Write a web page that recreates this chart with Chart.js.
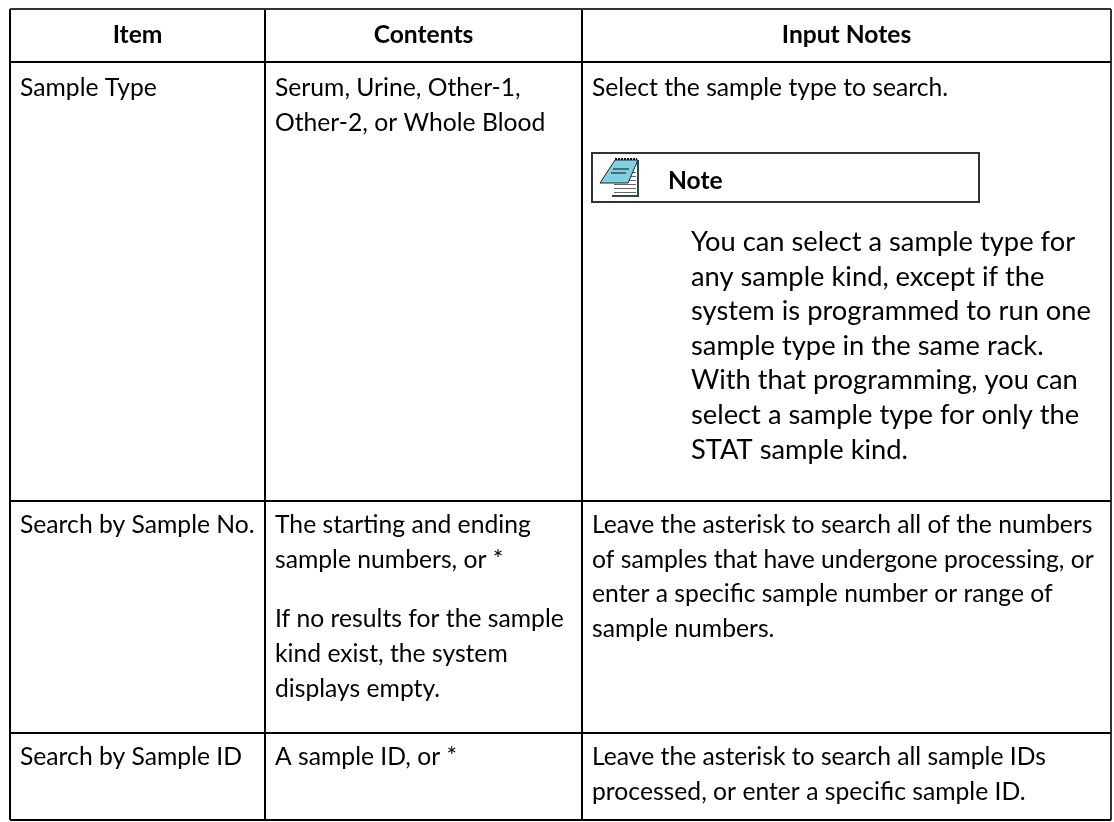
<!DOCTYPE html>
<html><head><meta charset="utf-8">
<style>html,body{margin:0;padding:0;background:#fff}#w{position:relative;width:1114px;height:822px}</style>
<script src="https://cdn.jsdelivr.net/npm/chart.js@4"></script></head>
<body><div id="w"><canvas id="c" width="1114" height="822"></canvas></div>
<script>
const columnEdges=[10,265,582,1111];
const rowEdges=[9,62,501,733,820];
const headers=["Item","Contents","Input Notes"];
const itemColumn=[["Sample Type"],["Search by Sample No."],["Search by Sample ID"]];
const contentsColumn=[
 ["Serum, Urine, Other-1,","Other-2, or Whole Blood"],
 ["The starting and ending","sample numbers, or *"],
 ["A sample ID, or *"]];
const contentsExtra=["If no results for the sample","kind exist, the system","displays empty."];
const notesColumn=[
 ["Select the sample type to search."],
 ["Leave the asterisk to search all of the numbers","of samples that have undergone processing, or","enter a specific sample number or range of","sample numbers."],
 ["Leave the asterisk to search all sample IDs","processed, or enter a specific sample ID."]];
const noteTitle="Note";
const noteBody=["You can select a sample type for","any sample kind, except if the","system is programmed to run one","sample type in the same rack.","With that programming, you can","select a sample type for only the","STAT sample kind."];
const FONT='Lato, "Open Sans", sans-serif';
const tablePlugin={id:'table',afterDatasetsDraw(ch){
 const g=ch.ctx,X=ch.scales.x,Y=ch.scales.y;
 const px=v=>X.getPixelForValue(v),py=v=>Y.getPixelForValue(v);
 g.save();g.fillStyle='#000';g.textBaseline='alphabetic';
 g.font='bold 24.6px '+FONT;g.textAlign='center';
 headers.forEach((h,i)=>g.fillText(h,px((columnEdges[i]+columnEdges[i+1])/2),py(43)));
 g.textAlign='left';g.font='24.7px '+FONT;
 const cell=(lines,x,y,lh)=>lines.forEach((t,i)=>g.fillText(t,px(x),py(y+i*lh)));
 const tops=[96,533,765];
 itemColumn.forEach((l,i)=>cell(l,20,tops[i],34.6));
 contentsColumn.forEach((l,i)=>cell(l,275,tops[i],34.6));
 cell(contentsExtra,275,627,34.8);
 notesColumn.forEach((l,i)=>cell(l,592,tops[i],34.6));
 g.strokeStyle='#333';g.lineWidth=2;g.strokeRect(px(592),py(153),px(979)-px(592),py(202)-py(153));
 g.font='bold 24.6px '+FONT;g.fillText(noteTitle,px(668),py(189));
 g.font='27.3px '+FONT;cell(noteBody,691,251,34.6);
 // notepad icon
 g.lineWidth=1;g.fillStyle='#fff';g.strokeStyle='#222';g.fillRect(px(611),py(160),27,36);
 g.fillStyle='#345';g.fillRect(px(637),py(160),2,37);g.fillRect(px(612),py(195),27,2);
 g.strokeStyle='#666';for(let i=0;i<6;i++){const y=py(172+i*4)+.5;g.beginPath();g.moveTo(px(614),y);g.lineTo(px(636),y);g.stroke();}
 g.fillStyle='#7fd0e0';g.strokeStyle='#222';g.beginPath();g.moveTo(px(615),py(160));g.lineTo(px(638),py(160));g.lineTo(px(628),py(183));g.lineTo(px(600),py(183));g.closePath();g.fill();g.stroke();
 g.strokeStyle='#111';g.beginPath();g.moveTo(px(613),py(169));g.lineTo(px(629),py(169));g.moveTo(px(611),py(173));g.lineTo(px(626),py(173));g.stroke();
 g.lineWidth=2;g.setLineDash([2,1]);g.beginPath();g.moveTo(px(615),py(159));g.lineTo(px(637),py(159));g.stroke();
 g.restore();}};
const lineColor=edge=>c=>(c.index===edge?'#333':'#000');
new Chart(document.getElementById('c'),{type:'scatter',data:{datasets:[{data:[],pointRadius:0}]},plugins:[tablePlugin],
 options:{responsive:false,animation:false,layout:{padding:{left:10,top:9,right:3,bottom:2}},plugins:{legend:{display:false},tooltip:{enabled:false},title:{display:false}},
 scales:{
  x:{type:'linear',min:10,max:1111,border:{display:false},ticks:{display:false},grid:{color:lineColor(3),lineWidth:2,drawTicks:false},afterBuildTicks:a=>{a.ticks=columnEdges.map(v=>({value:v}));}},
  y:{type:'linear',min:9,max:820,reverse:true,border:{display:false},ticks:{display:false},grid:{color:lineColor(0),lineWidth:2,drawTicks:false},afterBuildTicks:a=>{a.ticks=rowEdges.map(v=>({value:v}));}}
 }}});
</script></body></html>
